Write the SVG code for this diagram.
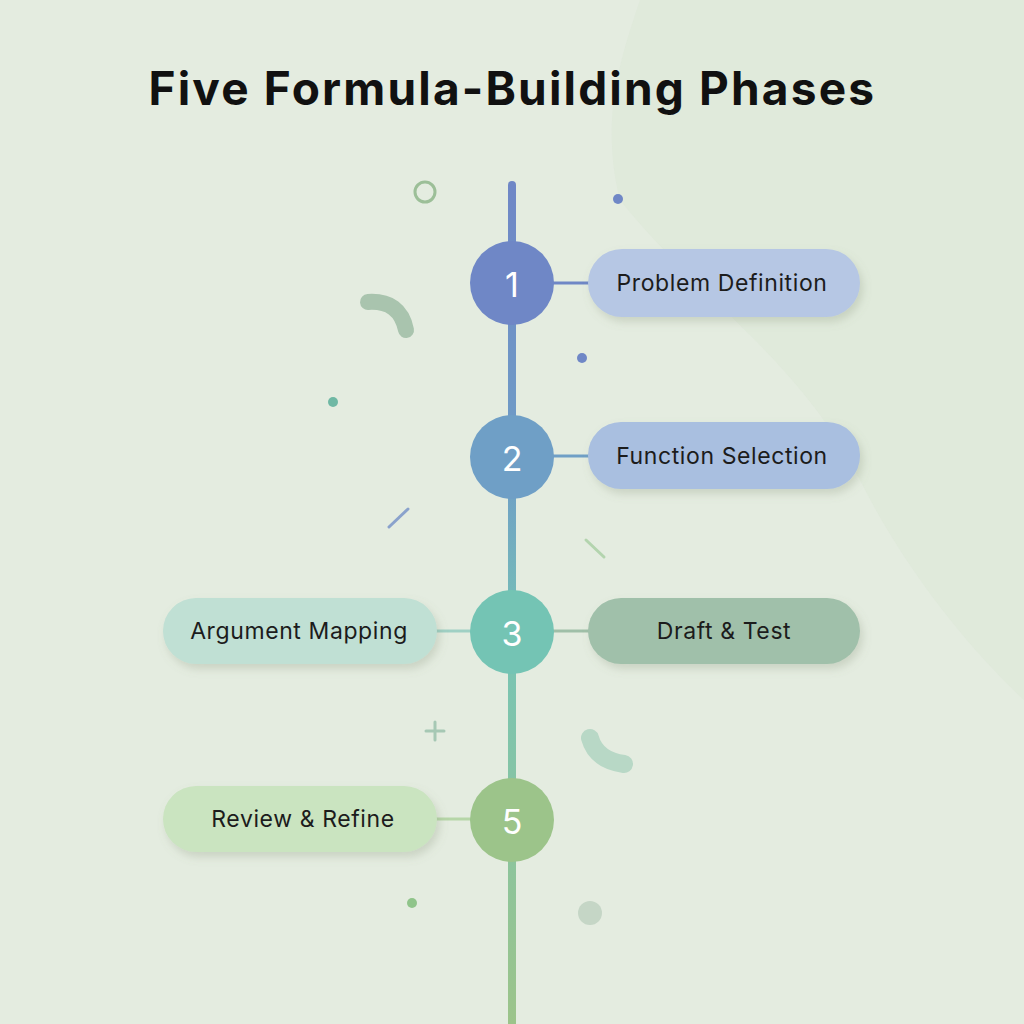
<svg xmlns="http://www.w3.org/2000/svg" width="1024" height="1024" viewBox="0 0 1024 1024">
<defs>
<linearGradient id="spine" x1="0" y1="185" x2="0" y2="1024" gradientUnits="userSpaceOnUse">
<stop offset="0" stop-color="#6f87c6"/><stop offset="0.35" stop-color="#6f9fc6"/><stop offset="0.55" stop-color="#78c4b4"/><stop offset="1" stop-color="#9cc48a"/>
</linearGradient>
<filter id="sh" x="-20%" y="-30%" width="140%" height="170%"><feDropShadow dx="3" dy="5" stdDeviation="4" flood-color="#7a8a70" flood-opacity="0.25"/></filter>
</defs>
<style>
.lbl{font-family:"Inter","Liberation Sans",sans-serif;font-size:23px;letter-spacing:0.6px;fill:#1c1c1c;text-anchor:middle;dominant-baseline:central}
.num{font-family:"Inter","Liberation Sans",sans-serif;font-size:34px;fill:#ffffff;text-anchor:middle;dominant-baseline:central}
.con{stroke-width:3}
.deco{fill:none;stroke-linecap:round}
</style>
<rect width="1024" height="1024" fill="#e4ece0"/>
<path d="M640 0 L1024 0 L1024 700 C960 640 900 560 860 480 C800 360 700 300 620 200 C600 120 620 60 640 0Z" fill="#dce8d6" opacity="0.5"/>
<text x="512" y="88" font-family="Inter,'Liberation Sans',sans-serif" font-weight="bold" font-size="46" letter-spacing="1.5" textLength="727" lengthAdjust="spacing" fill="#111" text-anchor="middle" dominant-baseline="central">Five Formula-Building Phases</text>
<g id="decorations">
<circle cx="425" cy="192" r="10" class="deco" stroke="#9cbf98" stroke-width="3"/>
<circle cx="618" cy="199" r="5" fill="#6f87c6"/>
<circle cx="582" cy="358" r="5" fill="#6f87c6"/>
<circle cx="333" cy="402" r="5" fill="#6fb8a4"/>
<path d="M368 302 Q400 300 406 330" class="deco" stroke="#a9c4ae" stroke-width="16"/>
<line x1="389" y1="527" x2="408" y2="509" class="deco" stroke="#8aa2cc" stroke-width="3"/>
<line x1="586" y1="540" x2="604" y2="557" class="deco" stroke="#b3d4ae" stroke-width="3"/>
<path d="M435 722 V740 M426 731 H444" class="deco" stroke="#a6c8b4" stroke-width="3"/>
<path d="M590 738 Q596 760 624 764" class="deco" stroke="#b8d8c6" stroke-width="18"/>
<circle cx="412" cy="903" r="5" fill="#8fc48a"/>
<circle cx="590" cy="913" r="12" fill="#c5d6c6"/>
</g>
<g id="connectors">
<line x1="512" y1="185" x2="512" y2="1024" stroke="url(#spine)" stroke-width="8" stroke-linecap="round"/>
<line x1="552" y1="283" x2="590" y2="283" class="con" stroke="#6f87c6"/>
<line x1="552" y1="456" x2="590" y2="456" class="con" stroke="#6f9fc6"/>
<line x1="552" y1="631" x2="590" y2="631" class="con" stroke="#9fbfa8"/>
<line x1="435" y1="631" x2="472" y2="631" class="con" stroke="#9fd0c4"/>
<line x1="435" y1="819" x2="472" y2="819" class="con" stroke="#b6d6a8"/>
</g>
<g id="n1"><circle cx="512" cy="283" r="42" fill="#6f87c6"/><text x="512" y="284" class="num">1</text></g>
<g id="n2"><circle cx="512" cy="457" r="42" fill="#6f9fc6"/><text x="512" y="458" class="num">2</text></g>
<g id="n3"><circle cx="512" cy="632" r="42" fill="#74c4b4"/><text x="512" y="633" class="num">3</text></g>
<g id="n5"><circle cx="512" cy="820" r="42" fill="#9cc48a"/><text x="512" y="821" class="num">5</text></g>
<g id="p1"><rect x="588" y="249" width="272" height="68" rx="34" fill="#b6c7e4" filter="url(#sh)"/><text x="722" y="283" class="lbl">Problem Definition</text></g>
<g id="p2"><rect x="588" y="422" width="272" height="67" rx="33" fill="#a9bfe0" filter="url(#sh)"/><text x="722" y="456" class="lbl">Function Selection</text></g>
<g id="p3"><rect x="588" y="598" width="272" height="66" rx="33" fill="#a0c0aa" filter="url(#sh)"/><text x="724" y="631" class="lbl">Draft &amp; Test</text></g>
<g id="p4"><rect x="163" y="598" width="274" height="66" rx="33" fill="#c0e0d4" filter="url(#sh)"/><text x="299" y="631" class="lbl">Argument Mapping</text></g>
<g id="p5"><rect x="163" y="786" width="274" height="66" rx="33" fill="#cae4c0" filter="url(#sh)"/><text x="303" y="819" class="lbl">Review &amp; Refine</text></g>
</svg>
